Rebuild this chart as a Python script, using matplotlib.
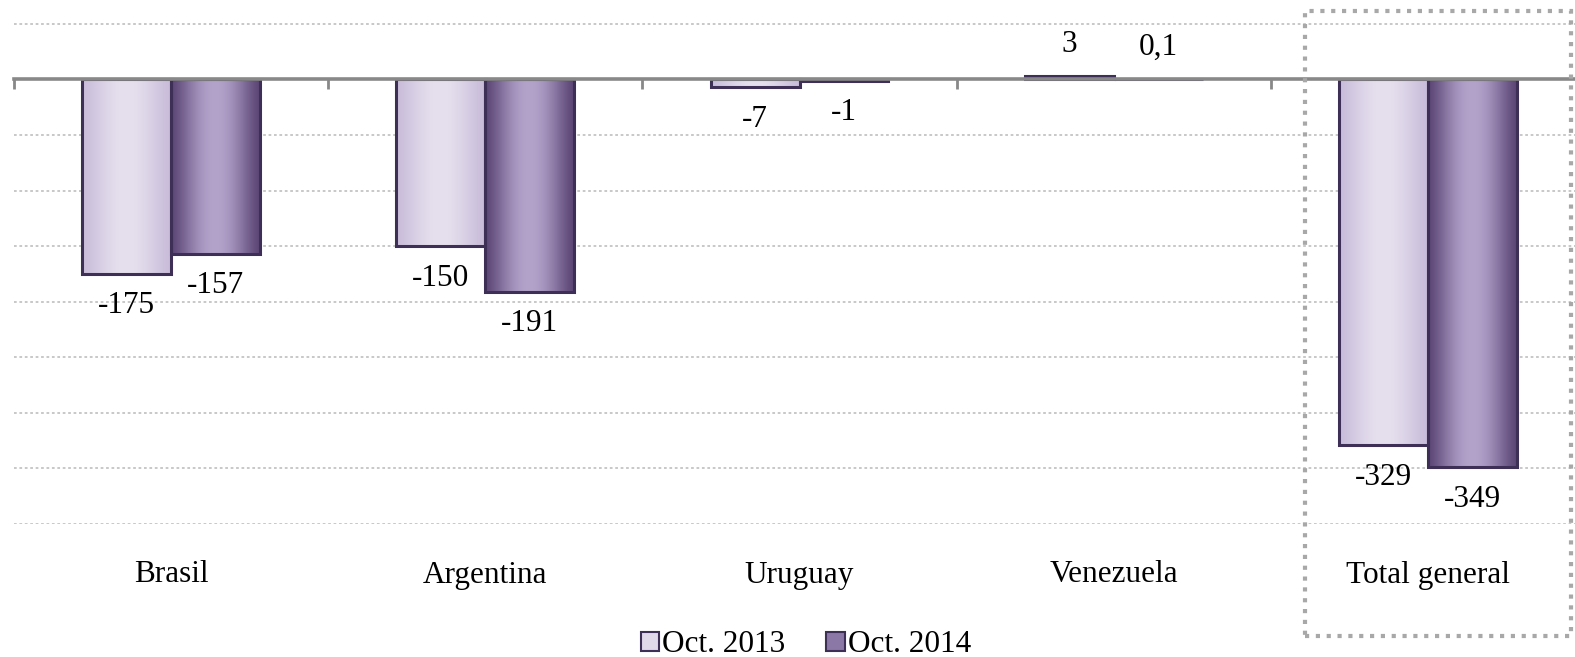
import numpy as np
import matplotlib
matplotlib.use("Agg")
import matplotlib.pyplot as plt
from matplotlib.patches import Rectangle, Patch
from matplotlib.colors import to_rgb
import matplotlib.transforms as mtransforms

# datos
paises = ["Brasil", "Argentina", "Uruguay", "Venezuela", "Total general"]
oct_2013 = [-175, -150, -7, 3, -329]
oct_2014 = [-157, -191, -1, 0.1, -349]
etiq_2013 = ["-175", "-150", "-7", "3", "-329"]
etiq_2014 = ["-157", "-191", "-1", "0,1", "-349"]
series = ["Oct. 2013", "Oct. 2014"]

plt.rcParams["font.family"] = ["Liberation Serif", "DejaVu Serif"]
plt.rcParams["font.size"] = 22.5

W, H = 1575, 657
fig = plt.figure(figsize=(W / 100, H / 100), dpi=100)
ax = fig.add_axes([14 / W, (H - 524) / H, 5 * 314.2 / W, 524 / H])

ancho = 0.283
x = np.arange(len(paises))

# colores del degradado (borde -> centro)
grad = {
    0: (to_rgb("#c8bcda"), to_rgb("#e6e0ee")),
    1: (to_rgb("#5c4676"), to_rgb("#b3a3cb")),
}
borde = "#3e2f56"


def barra_degradada(ax, xc, valor, k):
    x0 = xc - ancho / 2
    rect = Rectangle((x0, 0), ancho, valor, facecolor="none",
                     edgecolor=borde, linewidth=2.2, zorder=3)
    ax.add_patch(rect)
    t = np.linspace(0, 1, 100)
    w = np.sin(np.pi * t) ** 1.3
    c0, c1 = np.array(grad[k][0]), np.array(grad[k][1])
    img = (c0[None, :] * (1 - w[:, None]) + c1[None, :] * w[:, None])[None, :, :]
    y0, y1 = sorted([0, valor])
    im = ax.imshow(img, extent=[x0, x0 + ancho, y0, y1], aspect="auto",
                   zorder=2, interpolation="bilinear")
    im.set_clip_path(rect)


for i in range(len(paises)):
    for k, (vals, etiq) in enumerate([(oct_2013, etiq_2013), (oct_2014, etiq_2014)]):
        xc = x[i] + (k - 0.5) * ancho
        barra_degradada(ax, xc, vals[i], k)
        desp = 32 if vals[i] > 0 else -32
        ax.annotate(etiq[i], (xc, vals[i]), xytext=(0, desp),
                    textcoords="offset pixels", ha="center", va="center")

ax.set_xlim(-0.5, 4.5)
ax.set_ylim(-400, 71.5)

# rejilla punteada
for yv in np.arange(-400, 51, 50):
    if yv != 0:
        ax.axhline(yv, color="#c4c4c4", linewidth=1.3,
                   linestyle=(0, (1.5, 1.5)), zorder=1)

for s in ["left", "right", "top"]:
    ax.spines[s].set_visible(False)
ax.spines["bottom"].set_position(("data", 0))
ax.spines["bottom"].set_color("#888888")
ax.spines["bottom"].set_linewidth(2.6)
ax.spines["bottom"].set_zorder(4)
ax.set_yticks([])
ax.set_xticks(np.arange(-0.5, 5, 1))
ax.set_xticklabels([])
ax.tick_params(axis="x", direction="out", length=7, width=2, color="#888888")

# etiquetas de categoria abajo
trans = mtransforms.blended_transform_factory(ax.transData, ax.transAxes)
for i, p in enumerate(paises):
    ax.text(x[i], -51 / 524, p, transform=trans, ha="center", va="center")

# recuadro punteado del total
caja = Rectangle((1305 / W, (H - 636) / H), (1571 - 1305) / W, (636 - 11) / H,
                 transform=fig.transFigure, fill=False, edgecolor="#a8a8a8",
                 linewidth=3, linestyle=(0, (1, 1.6)), zorder=5)
fig.add_artist(caja)

# leyenda
handles = [Patch(facecolor="#e0d9ea", edgecolor=borde, linewidth=1.5),
           Patch(facecolor="#8b78a7", edgecolor=borde, linewidth=1.5)]
fig.legend(handles, series, loc="center", bbox_to_anchor=(806 / W, 1 - 645 / H),
           ncol=2, frameon=False, handlelength=0.6, handleheight=0.6,
           handletextpad=0.1, columnspacing=1.3, borderpad=0)

fig.savefig("out.png", dpi=100)
